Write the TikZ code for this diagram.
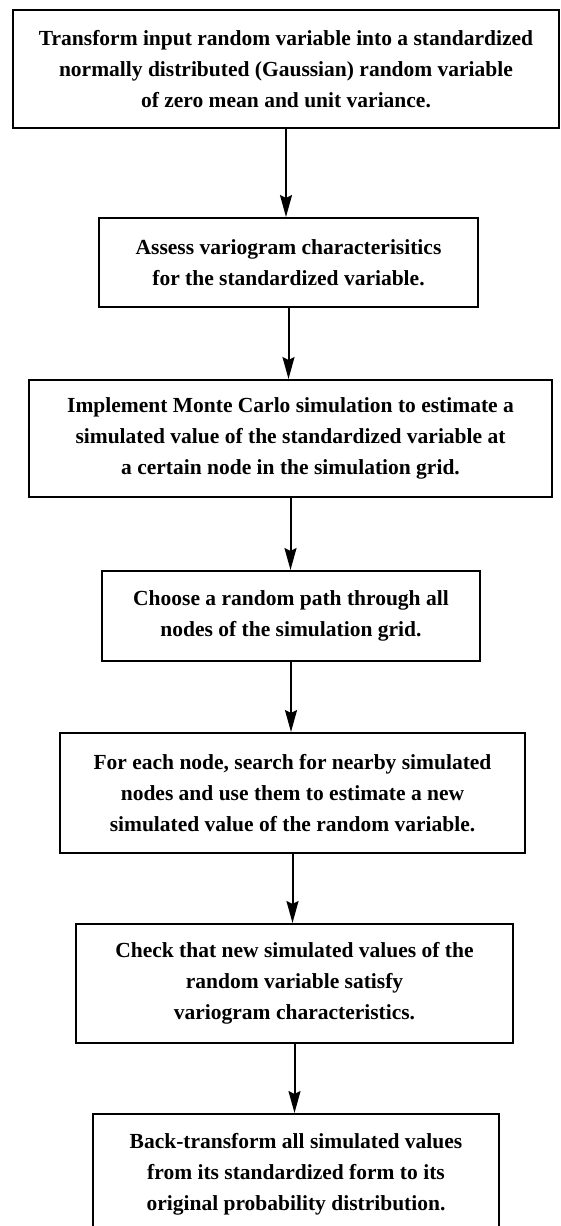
\documentclass[tikz,border=0pt]{standalone}
\usepackage{fontspec}
\setmainfont{Liberation Serif}
\usetikzlibrary{arrows.meta}
\begin{document}
\begin{tikzpicture}[x=1pt,y=-1pt,
  stepbox/.style={draw=black, line width=2pt, align=center, inner sep=0pt,
    font=\fontsize{21.5}{31}\selectfont\bfseries},
  flow/.style={draw=black, line width=2pt,
    -{Stealth[length=22pt,width=12pt,inset=3pt]}}]
  \useasboundingbox (0,0) rectangle (560,1226);
  \fill[white] (0,0) rectangle (560,1226);

  \node[stepbox, minimum width=546pt, minimum height=118pt] (s1) at (286,69)
    {Transform input random variable into a standardized\\
     normally distributed (Gaussian) random variable\\
     of zero mean and unit variance.};
  \node[stepbox, minimum width=379pt, minimum height=89pt] (s2) at (288.5,262.5)
    {Assess variogram characterisitics\\
     for the standardized variable.};
  \node[stepbox, minimum width=523pt, minimum height=117pt] (s3) at (290.5,438.5)
    {Implement Monte Carlo simulation to estimate a\\
     simulated value of the standardized variable at\\
     a certain node in the simulation grid.};
  \node[stepbox, minimum width=378pt, minimum height=90pt] (s4) at (291,616)
    {Choose a random path through all\\
     nodes of the simulation grid.};
  \node[stepbox, minimum width=465pt, minimum height=120pt] (s5) at (292.5,793)
    {For each node, search for nearby simulated\\
     nodes and use them to estimate a new\\
     simulated value of the random variable.};
  \node[stepbox, minimum width=437pt, minimum height=119pt] (s6) at (294.5,983.5)
    {Check that new simulated values of the\\
     random variable satisfy\\
     variogram characteristics.};
  \node[stepbox, minimum width=406pt, minimum height=120pt] (s7) at (296,1174)
    {Back-transform all simulated values\\
     from its standardized form to its\\
     original probability distribution.};

  % vertical connectors, dropped from each box to the top of the next
  \draw[flow] (s1.south) -- (s1.south |- s2.north);
  \draw[flow] (s2.south) -- (s2.south |- s3.north);
  \draw[flow] (s3.south) -- (s3.south |- s4.north);
  \draw[flow] (s4.south) -- (s4.south |- s5.north);
  \draw[flow] (s5.south) -- (s5.south |- s6.north);
  \draw[flow] (s6.south) -- (s6.south |- s7.north);
\end{tikzpicture}
\end{document}
